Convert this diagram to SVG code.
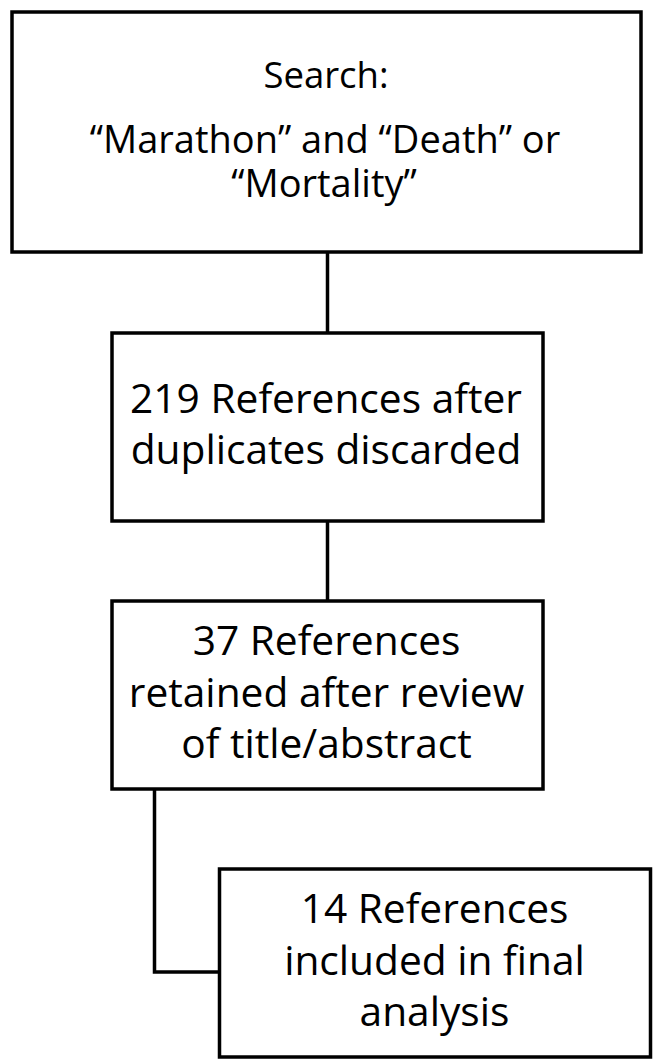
<svg xmlns="http://www.w3.org/2000/svg" width="653" height="1059" viewBox="0 0 653 1059">
<style>
.box{fill:#fff;stroke:#000;stroke-width:3.5}
.conn{fill:none;stroke:#000;stroke-width:3.5}
.t{font-family:"Open Sans","Liberation Sans",sans-serif;font-size:40.7px;fill:#000;text-anchor:middle}
.q{font-size:38px}
.s{font-size:36.5px}
</style>
<rect width="653" height="1059" fill="#fff"/>
<g id="connectors">
<line class="conn" x1="327.5" y1="252" x2="327.5" y2="333"/>
<line class="conn" x1="327.5" y1="521" x2="327.5" y2="601"/>
<polyline class="conn" points="154.5,789 154.5,972 219.5,972"/>
</g>
<g id="search">
<rect class="box" x="12" y="12" width="629" height="240"/>
<text class="t s" x="326" y="88">Search:</text>
<text class="t q" x="325" y="153">“Marathon” and “Death” or</text>
<text class="t q" x="324" y="197">“Mortality”</text>
</g>
<g id="dedup">
<rect class="box" x="112" y="333" width="431" height="188"/>
<text class="t" x="326" y="413">219 References after</text>
<text class="t" x="326" y="464">duplicates discarded</text>
</g>
<g id="retained">
<rect class="box" x="112" y="601" width="431" height="188"/>
<text class="t" x="326.5" y="655">37 References</text>
<text class="t" x="326.5" y="706.5">retained after review</text>
<text class="t" x="326.5" y="758">of title/abstract</text>
</g>
<g id="included">
<rect class="box" x="219.5" y="869" width="431" height="188"/>
<text class="t" x="434.5" y="923">14 References</text>
<text class="t" x="434.5" y="975">included in final</text>
<text class="t" x="434.5" y="1026">analysis</text>
</g>
</svg>
